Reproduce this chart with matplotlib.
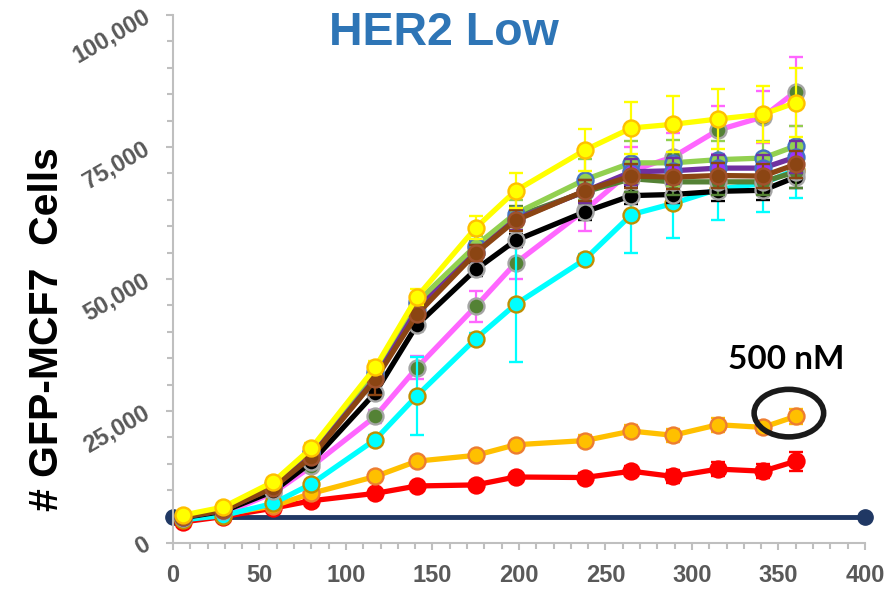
import matplotlib
matplotlib.use("Agg")
import matplotlib.pyplot as plt
from matplotlib.patches import Ellipse
from matplotlib.ticker import MultipleLocator, FuncFormatter
import numpy as np

plt.rcParams['font.family'] = ['Liberation Sans', 'DejaVu Sans']

# ---- data (time in hours, counts in cells) ----
hours = [6, 29, 58, 80, 117, 141, 175, 198, 238, 265, 289, 315, 341, 360]

yellow = [5300, 6800, 11600, 18000, 33300, 46600, 59700, 66700, 74400, 78600, 79300, 80300, 81200, 83400]
yellow_err = [400, 500, 700, 900, 1200, 1500, 2200, 3300, 4000, 5000, 5300, 5700, 5300, 6500]

light_green = [5000, 6500, 11200, 17300, 32300, 45600, 56300, 62400, 68800, 72000, 72000, 72600, 72900, 75200]
light_green_err = [300, 400, 600, 800, 1000, 1200, 1800, 2500, 3900, 4100, 4300, 3500, 3200, 3700]

dark_green = [5000, 6400, 11000, 17000, 32000, 45300, 55800, 61800, 66500, 69000, 68400, 68400, 68400, 70300]
dark_green_err = [300, 400, 600, 800, 1000, 1200, 1500, 2000, 2200, 2500, 2500, 2500, 2500, 3000]

purple = [4900, 6200, 10600, 16500, 31200, 44200, 55000, 61300, 66600, 70300, 70500, 71000, 71000, 73100]
purple_err = [300, 400, 600, 800, 1000, 1200, 1500, 2000, 2200, 2500, 2500, 2500, 2500, 3000]

brown = [4900, 6200, 10500, 16300, 31000, 43300, 54900, 61100, 66700, 69500, 69300, 69600, 69500, 71700]
brown_err = [300, 400, 600, 800, 3000, 1300, 1500, 2000, 2000, 2300, 2300, 2300, 2300, 2500]

black = [4800, 6000, 9800, 15300, 28500, 41300, 51800, 57300, 62700, 65800, 66000, 66600, 66800, 69300]
black_err = [300, 400, 500, 700, 1000, 1200, 1200, 1300, 1600, 1600, 1600, 1800, 1800, 2100]

pink = [4500, 5500, 9500, 14500, 24000, 33200, 44800, 53000, 63000, 70500, 73100, 78200, 80700, 85500]
pink_err = [300, 400, 600, 800, 1200, 2200, 3000, 3000, 4000, 4500, 4500, 4500, 5000, 6500]

cyan = [4400, 5200, 7500, 11200, 19600, 27900, 38700, 45200, 53700, 62200, 64300, 67000, 68100, 70700]
cyan_err = [300, 300, 500, 800, 800, 7400, 1000, 11000, 1000, 7300, 6600, 5900, 5500, 5400]

orange = [5000, 5500, 7000, 9400, 12600, 15500, 16600, 18600, 19400, 21200, 20400, 22400, 21900, 24000]
orange_err = [300, 300, 400, 500, 600, 700, 700, 800, 1000, 1200, 1200, 1300, 1100, 1400]

red = [4000, 5000, 6600, 8000, 9400, 10800, 11000, 12500, 12400, 13600, 12600, 14000, 13600, 15500]
red_err = [300, 300, 400, 500, 600, 600, 700, 600, 800, 1000, 1200, 1300, 1300, 1800]

baseline_x = [0, 400]
baseline_y = [5000, 5000]

x_ticks = [0, 50, 100, 150, 200, 250, 300, 350, 400]
y_ticks = [0, 25000, 50000, 75000, 100000]

# ---- figure ----
W, H = 895, 592
fig = plt.figure(figsize=(W / 100, H / 100), dpi=100)
ax = fig.add_axes([173 / W, 1 - 543 / H, (865 - 173) / W, (543 - 15) / H])
ax.set_xlim(0, 400)
ax.set_ylim(0, 100000)

# baseline (navy)
ax.plot(baseline_x, baseline_y, color='#203864', lw=3.5, marker='o', ms=11,
        mfc='#203864', mec='#203864', zorder=2, clip_on=False)

series = [
    (red, red_err, '#FF0000', '#FF0000', '#FF0000'),
    (orange, orange_err, '#FFC000', '#FFC000', '#ED7D31'),
    (pink, pink_err, '#FF66FF', '#548235', '#A5A5A5'),
    (cyan, cyan_err, '#00FFFF', '#00FFFF', '#BF9000'),
    (black, black_err, '#000000', '#000000', '#A5A5A5'),
    (dark_green, dark_green_err, '#548235', '#548235', '#A5A5A5'),
    (light_green, light_green_err, '#92D050', '#92D050', '#4472C4'),
    (purple, purple_err, '#7030A0', '#9933FF', '#4472C4'),
    (brown, brown_err, '#8B4513', '#8B4513', '#A0522D'),
    (yellow, yellow_err, '#FFFF00', '#FFFF00', '#FFC000'),
]

for i, (vals, errs, lc, fc, ec) in enumerate(series):
    ax.errorbar(hours, vals, yerr=errs, color=lc, lw=3.8, marker='o', ms=11.5,
                mfc=fc, mec=ec, mew=1.7, elinewidth=1.6, capsize=5, capthick=1.8,
                ecolor=lc, zorder=3 + i)

# axes styling
for s in ['top', 'right']:
    ax.spines[s].set_visible(False)
for s in ['left', 'bottom']:
    ax.spines[s].set_color('#BFBFBF')
    ax.spines[s].set_linewidth(1.5)

ax.set_xticks(x_ticks)
ax.xaxis.set_minor_locator(MultipleLocator(10))
ax.set_yticks(y_ticks)
ax.yaxis.set_minor_locator(MultipleLocator(5000))
ax.yaxis.set_major_formatter(FuncFormatter(lambda v, p: f"{int(v):,}"))
ax.tick_params(axis='both', which='both', direction='out', color='#BFBFBF', width=1.5)
ax.tick_params(axis='both', which='major', length=5)
ax.tick_params(axis='both', which='minor', length=4)
ax.tick_params(axis='x', which='major', pad=10, labelsize=17, labelcolor='#595959')
ax.tick_params(axis='y', which='major', pad=13, labelsize=17, labelcolor='#595959')
for lab in ax.get_xticklabels():
    lab.set_fontweight('bold')
for lab in ax.get_yticklabels():
    lab.set_fontweight('bold')
    lab.set_rotation(30)
    lab.set_ha('right')
    lab.set_va('center')
    lab.set_rotation_mode('anchor')

# titles and labels
fig.text(444 / W, 1 - 45 / H, 'HER2 Low', color='#2E75B6', fontsize=33.5,
         fontweight='bold', ha='center', va='baseline')
fig.text(47 / W, 1 - 329 / H, '# GFP-MCF7  Cells', color='black', fontsize=29.5,
         fontweight='bold', rotation=90, ha='center', va='center')

# annotation
fig.text(786 / W, 1 - 369 / H, '500 nM', color='black', fontsize=24,
         fontweight='bold', ha='center', va='baseline', family=['Lato', 'DejaVu Sans'])
ax.add_patch(Ellipse((356, 24600), 40.2, 9000, fill=False, ec='#1A1A1A', lw=4,
                     zorder=20))

fig.savefig('out.png', dpi=100)
